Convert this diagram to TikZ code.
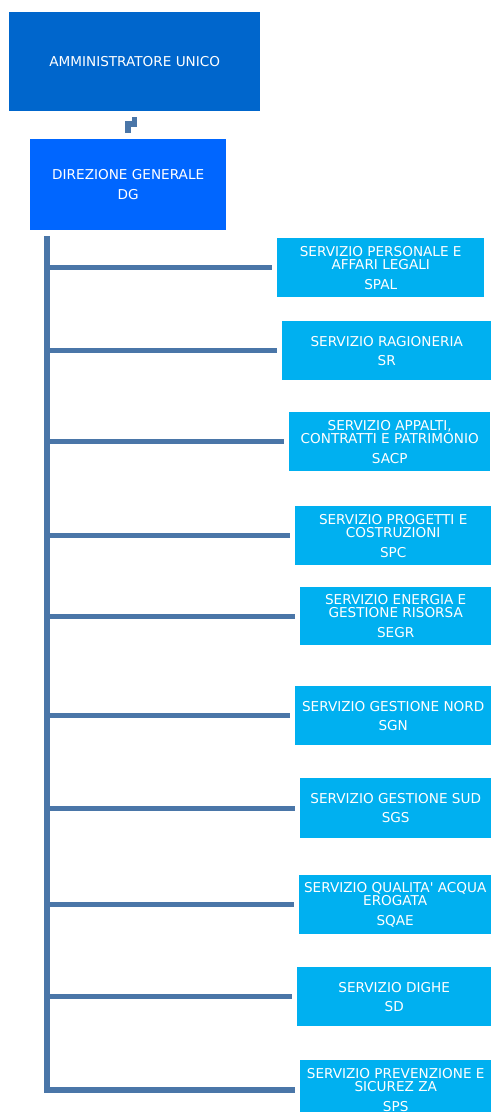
\documentclass[tikz,border=0pt]{standalone}
\usepackage{fontspec}
\setmainfont{DejaVu Sans}[Ligatures=TeXOff]
\usepackage{xcolor}
\usepackage{tikz}
\definecolor{aublue}{RGB}{0,102,204}
\definecolor{dgblue}{RGB}{0,102,255}
\definecolor{servblue}{RGB}{0,176,240}
\definecolor{linkblue}{RGB}{74,118,168}
\tikzstyle{capo} = [rectangle, 
anchor=north west, 
inner sep=0pt, 
text=white, 
align=center, 
font=\fontsize{13.6}{12.8}\selectfont, 
fill=aublue]
\tikzstyle{direzione} = [capo, fill=dgblue]
\tikzstyle{servizio} = [capo, 
minimum height=59pt, 
fill=servblue]
\tikzstyle{link} = [line width=5pt, draw=linkblue]

\begin{document}
\begin{tikzpicture}[x=1pt, y=-1pt]
\useasboundingbox (0,0) rectangle (491,1112);
\clip (0,0) rectangle (491,1112);

\node (au) [capo, minimum width=251pt, minimum height=99pt] at (9,12) {AMMINISTRATORE UNICO};
\node (dg) [direzione, minimum width=196pt, minimum height=91pt] at (30,139) {DIREZIONE GENERALE\\[7.5pt]DG};

\node (spal) [servizio, minimum width=207pt] at (277,238) {SERVIZIO PERSONALE E\\AFFARI LEGALI\\[7.2pt]SPAL};
\node (sr) [servizio, minimum width=209pt] at (282,321) {SERVIZIO RAGIONERIA\\[6.5pt]SR};
\node (sacp) [servizio, minimum width=201pt] at (289,412) {SERVIZIO APPALTI,\\CONTRATTI E PATRIMONIO\\[7.2pt]SACP};
\node (spc) [servizio, minimum width=196pt] at (295,506) {SERVIZIO PROGETTI E\\COSTRUZIONI\\[7.2pt]SPC};
\node (segr) [servizio, minimum width=191pt, minimum height=58pt] at (300,587) {SERVIZIO ENERGIA E\\GESTIONE RISORSA\\[7.2pt]SEGR};
\node (sgn) [servizio, minimum width=196pt] at (295,686) {SERVIZIO GESTIONE NORD\\[6.5pt]SGN};
\node (sgs) [servizio, minimum width=191pt, minimum height=60pt] at (300,778) {SERVIZIO GESTIONE SUD\\[6.5pt]SGS};
\node (sqae) [servizio, minimum width=192pt] at (299,875) {SERVIZIO QUALITA' ACQUA\\EROGATA\\[7.2pt]SQAE};
\node (sd) [servizio, minimum width=194pt] at (297,967) {SERVIZIO DIGHE\\[6.5pt]SD};
\node (sps) [servizio, minimum width=191pt, minimum height=60pt] at (300,1060) {SERVIZIO PREVENZIONE E\\SICUREZ ZA\\[7.2pt]SPS};

% raccordo tra AU e DG
\draw [link, line width=5.5pt, shorten <=6pt, shorten >=6pt] (au.south) -- ++(0,12.5) -| (dg.north);

% linea verticale e rami dei servizi
\coordinate (trunk) at (47,236);
\draw [link, line width=6pt] (trunk) |- ([xshift=-5pt]sps.west);
\foreach \s in {spal, sr, sacp, spc, segr, sgn, sgs, sqae, sd}
  \draw [link, shorten >=5pt] (trunk |- \s.west) -- (\s.west);
\end{tikzpicture}
\end{document}
